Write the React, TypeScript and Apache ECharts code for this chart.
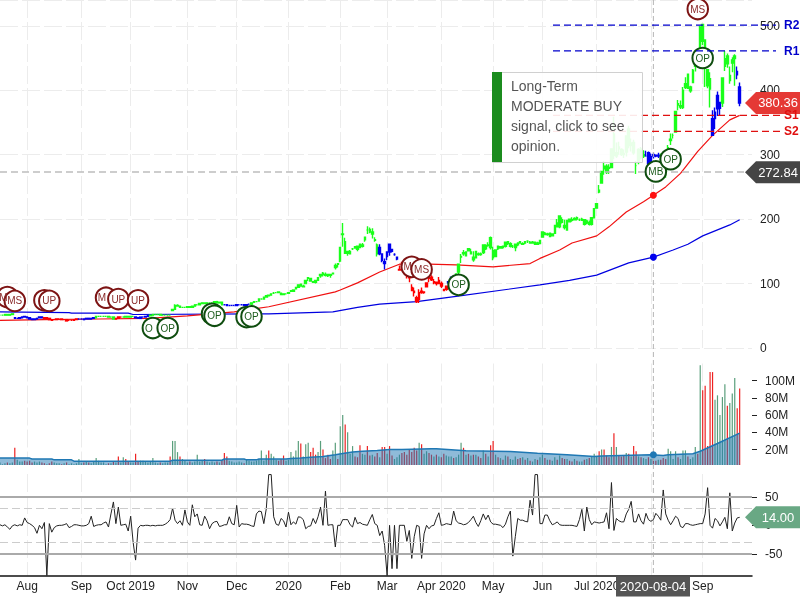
import React, { useEffect, useRef } from "react";
import * as echarts from "echarts";

const holidays = ["2019-09-02","2019-11-28","2019-12-25","2020-01-01","2020-01-20","2020-02-17","2020-04-10","2020-05-25","2020-07-03","2020-09-07"];
const firstDay = "2019-07-17";
const dayCount = 306;
const monthStarts = [11,33,53,76,96,117,138,157,179,200,220,242,264,285];
const monthLabels = ["Aug","Sep","Oct 2019","Nov","Dec","2020","Feb","Mar","Apr 2020","May","Jun","Jul 2020","","Sep"];

const closes = [
51,51,52,51,52,53,46,46,47,48,48,
47,45,44,45,46,48,47,46,47,44,43,44,45,45,44,44,42,43,43,44,45,45,
45,44,46,45,46,47,49,49,49,49,49,48,48,45,46,48,48,48,49,48,
49,49,47,46,48,48,49,50,51,52,52,52,51,51,51,51,51,60,66,66,63,63,63,
64,63,65,67,67,69,70,69,70,70,70,72,70,71,67,67,66,66,66,66,
67,67,67,66,67,68,70,72,72,76,76,79,81,81,84,85,86,86,83,84,84,
86,89,90,94,98,96,96,105,108,104,103,102,109,114,114,113,112,113,116,128,130,
156,177,147,150,150,154,155,153,161,160,172,183,180,180,167,160,156,136,134,
149,149,150,145,141,122,129,127,112,109,89,86,72,86,86,87,101,108,106,103,100,105,
96,91,96,103,109,110,115,130,142,146,149,151,149,137,150,145,145,160,154,160,156,
140,152,154,157,156,164,162,162,158,161,160,163,162,163,166,163,164,164,161,167,
180,176,177,173,177,190,188,205,195,187,198,196,198,201,200,199,200,192,197,192,202,216,
224,242,274,278,273,279,309,299,303,309,300,300,329,314,318,303,283,308,295,300,298,286,
297,298,298,299,291,284,275,311,324,330,367,377,376,400,410,403,405,431,448,443,498,
476,447,407,418,330,366,371,372,419,449,441,423,442,449,424,380];
const opens = [
51,51,51,52,51,52,47,46,46,47,49,
48,47,45,44,45,47,48,47,46,46,44,44,44,45,45,44,44,43,43,43,44,45,
45,45,45,46,45,46,47,49,49,49,49,49,48,48,45,46,48,48,48,49,
48,49,48,47,46,48,48,49,50,51,52,52,52,51,51,51,51,58,60,65,65,63,63,
63,64,63,65,67,67,69,70,69,70,70,70,72,70,71,67,67,66,66,66,
66,67,67,67,66,68,68,71,72,73,76,76,79,82,82,85,86,87,85,83,84,
85,88,88,92,94,99,95,100,109,108,102,105,105,112,116,114,114,114,115,125,131,
135,176,165,147,146,154,157,158,156,158,168,183,184,177,168,146,146,146,131,
142,161,153,145,138,121,132,128,116,119,94,88,78,75,88,86,95,109,110,101,102,100,
100,89,91,101,109,111,113,118,141,148,143,154,146,141,140,146,146,148,159,159,171,
151,142,158,155,158,158,165,158,158,156,163,165,161,165,166,164,163,161,163,162,
172,178,176,178,174,178,194,188,199,190,183,200,199,199,202,199,198,199,194,195,192,202,
217,245,256,282,282,280,280,332,298,312,308,302,304,340,314,319,283,288,309,298,298,303,
289,300,299,298,300,290,290,288,322,330,335,379,374,373,404,425,399,412,437,459,444,
502,478,432,402,356,356,392,381,380,437,453,415,447,453,429,405];
const lows = [
50,50,51,51,51,52,45,45,46,47,47,
46,44,43,44,45,46,46,45,46,44,42,43,44,44,44,43,42,42,42,43,44,44,
44,44,45,45,45,46,47,48,48,48,48,48,47,44,44,45,47,47,48,47,
47,48,46,45,46,47,48,49,50,51,51,51,50,50,50,50,50,57,59,64,62,62,62,
62,62,63,65,66,67,69,68,69,69,69,69,70,70,66,66,65,65,65,65,
66,66,66,65,66,67,68,70,71,72,75,75,78,80,81,84,85,85,82,82,83,
84,87,88,92,94,95,94,100,104,103,101,100,104,109,111,111,110,109,114,122,125,
133,157,146,143,146,152,154,150,155,156,165,177,178,170,165,142,144,133,122,
136,143,148,143,136,120,122,121,108,102,89,80,70,70,84,84,94,102,104,99,97,100,
93,88,89,99,104,106,110,115,132,143,142,150,146,134,139,143,143,146,152,157,153,
136,142,152,154,154,156,160,156,155,150,158,162,160,161,163,162,162,160,160,161,
172,175,174,172,173,177,187,186,193,184,182,195,196,198,198,197,197,190,192,190,190,201,
216,240,255,269,270,270,280,293,295,300,298,295,297,310,305,300,270,285,293,295,297,280,
288,294,296,295,283,272,264,283,315,325,334,369,371,371,402,403,396,411,429,441,444,
470,405,403,373,330,340,360,360,374,430,435,410,428,407,417,375];
const highs = [
52,52,52,52,52,53,47,47,47,49,49,
49,47,45,46,46,48,48,47,47,46,44,45,46,46,45,45,44,44,43,45,46,46,
46,45,46,46,47,47,50,50,50,50,50,49,49,48,46,48,49,49,49,49,
50,50,48,47,48,49,50,51,52,52,53,53,52,52,52,52,52,61,68,68,66,64,64,
64,64,66,67,68,70,70,70,70,71,71,72,72,71,72,68,67,67,67,67,
68,68,68,67,68,69,70,72,73,76,77,79,81,82,84,87,87,87,85,84,85,
86,90,90,95,99,100,98,106,110,109,104,106,110,115,118,117,115,114,117,131,131,
157,194,171,151,152,155,158,159,162,163,172,189,187,186,172,162,161,147,139,
150,161,152,147,139,128,134,129,119,122,99,94,81,91,94,88,102,112,113,107,103,110,
103,92,97,104,111,112,116,131,146,152,150,154,154,150,149,148,148,160,161,164,173,
157,153,158,158,158,165,165,164,160,162,164,166,164,166,167,166,166,165,165,168,
180,180,179,178,178,191,200,206,203,199,199,201,203,203,204,201,202,199,199,198,203,217,
225,253,275,290,285,285,309,359,319,320,310,308,330,345,325,323,290,310,312,307,306,305,
302,303,300,303,302,293,292,315,333,333,368,385,384,405,420,426,407,433,449,460,500,
502,479,431,428,369,373,398,382,420,461,457,437,451,456,437,412];

const regimeEnds = [5,17,31,38,46,49,54,60,90,101,153,161,181,184,261,267,288,292,298,300];
const regimeColors = ["#1aff1a","#0000ee","#ff0000","#0000ee","#1aff1a","#ff0000","#1aff1a","#0000ee","#1aff1a","#0000ee","#1aff1a","#0000ee","#ff0000","#0000ee","#1aff1a","#0000ee","#1aff1a","#0000ee","#1aff1a","#0000ee"];

const ma50Days = [0,18,40,60,76,95,109,136,138,145,154,162,174,185,200,215,219,227,232,242,247,254,261,265,270,276,283,289,296,300];
const ma50Vals = [43,44,45,46,50,56,64,87,90,101,118,130,130,129,126,131,139,152,163,174,188,211,227,237,250,271,305,330,354,361];
const ma200Days = [0,28,29,52,54,109,135,145,154,169,185,219,231,242,255,265,273,279,285,296,300];
const ma200Vals = [56,55,54,54,52,53,56,63,68,72,80,98,105,113,132,141,152,161,174,191,199];

const volumes = [
5,3,4,5,4,5,22,8,6,6,7,
6,7,5,6,5,6,5,4,3,4,6,5,4,4,3,4,5,3,4,3,4,9,
4,5,6,5,4,6,10,7,5,5,3,4,4,6,5,12,5,11,9,6,
5,5,15,6,7,7,6,5,6,10,5,4,5,4,5,5,12,30,30,17,12,9,7,
5,6,5,6,14,6,7,9,6,5,6,5,6,5,7,16,12,7,6,5,
5,6,5,4,8,7,6,6,7,9,19,7,14,19,15,12,8,7,9,13,7,
8,17,12,19,30,27,12,26,28,17,22,14,17,30,20,10,14,9,19,28,9,
47,60,49,40,15,24,12,11,25,15,14,24,13,14,12,16,11,23,23,
15,24,13,9,11,14,16,17,14,20,17,22,19,28,26,15,18,16,14,12,14,12,
11,15,13,12,12,10,11,14,28,22,14,15,13,14,14,12,10,19,15,12,25,
30,14,11,10,8,13,12,9,8,12,9,10,11,8,10,7,6,9,8,11,
14,10,8,8,7,11,8,13,10,9,9,7,6,9,7,6,6,8,9,10,12,15,
12,18,20,20,13,11,23,39,23,13,12,13,16,15,12,24,18,12,11,10,9,11,
9,9,7,8,8,10,9,21,18,9,18,11,9,19,19,12,9,11,23,15,118,
89,94,24,110,110,78,83,60,81,96,71,74,85,103,68,91];
const volumeRedOverride = [48,51,55,69,91,115,122,127,128,146,149,153,155,156,166,168,171,180,199,200,257,258,288];
const volumeGreenOverride = [121,124,125,129,130,170,187,290,291,292,293,294,297,298];
const volMaDays = [0,12,13,21,22,29,30,69,70,90,91,99,100,104,105,116,118,122,126,131,136,139,143,147,153,158,163,175,177,189,207,218,230,241,244,264,269,271,281,284,291,300];
const volMaVals = [10,10,9,9,8,8,6.5,6.5,7.5,7.5,9,9,8,8,9,9,9.5,10,11,12,14,15.5,17,18,19,20,20,21,21,18.5,17.6,15.7,14,12,12.5,14,13,14,15,18,27,39];

const oscillator = [
1,-1,1,-3,-7,-1,1,-1,1,0,
13,5,3,0,-4,-14,0,-6,5,-88,
3,-12,-4,-1,0,0,1,3,-4,-2,
1,1,0,-1,-1,0,3,16,-2,0,
1,1,4,6,-3,20,41,3,32,0,
1,2,-10,16,-30,-61,-5,0,-1,0,
0,-1,0,-1,0,0,0,2,5,10,
30,9,3,8,0,27,6,0,36,15,
20,1,0,16,8,-6,3,6,7,-2,
-1,1,1,15,3,1,35,-3,3,2,
2,1,-1,-2,20,25,24,3,29,89,
89,15,2,0,12,8,-3,23,1,6,
2,15,14,10,-6,-2,-1,12,3,15,
32,0,60,0,1,1,-38,0,0,10,
10,10,1,-3,14,3,5,2,1,0,
10,19,3,0,-18,-10,-35,-88,0,-76,
0,-76,0,0,0,-28,-9,-58,-20,0,
-2,-58,-15,0,-6,-1,0,12,22,0,
1,3,2,1,25,8,4,3,1,2,
5,10,16,5,-2,8,20,10,18,6,
2,2,1,0,-4,2,15,25,-54,-20,
12,9,9,7,6,44,18,89,89,3,
3,18,18,8,1,3,6,1,0,0,
0,0,0,-1,-2,10,28,-10,32,10,
1,6,5,4,5,6,22,-6,75,-9,
12,8,6,6,20,28,42,6,6,20,
8,2,21,10,7,10,21,16,9,62,
20,9,1,8,16,12,-2,-4,3,3,
1,0,1,2,3,3,20,66,0,-5,
12,8,-1,6,14,-6,57,-10,4,13,
14];

const signalDays = [3,6,18,20,43,48,56,62,68,86,87,100,102,167,171,186,283,285,266,272];
const signalVals = [79,73,74,73,78,76,74,31,31,53,50,48,49,126,122,98,526,450,274,293];
const signalText = ["M","MS","","UP","M","UP","UP","O","OP","","OP","","OP","M","MS","OP","MS","OP","MB","OP"];
const signalBearish = [1,1,1,1,1,1,1,0,0,0,0,0,0,1,1,0,1,0,0,0];

const levelNames = ["R2","R1","S1","S2"];
const levelVals = [501,461,361,336];
const levelColors = ["#0000cc","#0000cc","#e01010","#e01010"];

const cursorDay = 265;
const cursorDate = "2020-08-04";
const cursorPrice = 272.84;
const lastPrice = 380.36;
const lastOsc = 14;
const ma50Cursor = 237;
const ma200Cursor = 141;
const volMaCursor = 14;
const opinionLines = ["Long-Term", "MODERATE BUY", "signal, click to see", "opinion."];

const FONT = "'Liberation Sans', Arial, sans-serif";
const TAG = "path://M0 11 L11 0 L56 0 L56 22 L11 22 Z";
const pairs = (d: number[], v: number[]) => d.map((x, i) => [x, v[i]]);

function buildDates() {
  const out: string[] = [];
  const d = new Date(firstDay + "T00:00:00Z");
  while (out.length < dayCount) {
    const s = d.toISOString().slice(0, 10);
    const w = d.getUTCDay();
    if (w !== 0 && w !== 6 && !holidays.includes(s)) out.push(s);
    d.setUTCDate(d.getUTCDate() + 1);
  }
  return out;
}
const dates = buildDates();

const regimeColor = (i: number) => {
  const k = regimeEnds.findIndex((e) => i <= e);
  return regimeColors[k < 0 ? regimeColors.length - 1 : k];
};
const gridDash = { color: "#ececec", width: 1, type: [18, 4] as any };
const isMonth = (i: number) => monthStarts.includes(i);
const noY = { show: false };

function tag(day: number, value: number, text: string, color: string) {
  return {
    coord: [day, value],
    symbol: TAG,
    symbolSize: [56, 22],
    symbolKeepAspect: false,
    symbolOffset: [21, 0],
    itemStyle: { color, borderWidth: 0 },
    label: { show: true, formatter: text, position: "inside", color: "#fff", fontSize: 13, fontFamily: FONT, offset: [5, 0] },
  };
}

export default function App() {
  const ref = useRef<HTMLDivElement>(null);
  useEffect(() => {
    const chart = echarts.init(ref.current!, undefined, { renderer: "svg" });
    const xBase = (gridIndex: number) => ({
      type: "category",
      gridIndex,
      data: dates,
      boundaryGap: false,
      axisLine: { show: false, onZero: false },
      axisTick: noY,
      axisLabel: noY,
      splitLine: { show: true, interval: (i: number) => isMonth(i), lineStyle: gridDash },
    });
    chart.setOption({
      animation: false,
      textStyle: { fontFamily: FONT },
      grid: [
        { left: 0, width: 752, top: 0, height: 348 },
        { left: 0, width: 752, top: 363.5, height: 101.5 },
        { left: 0, width: 752, top: 474, height: 101.5 },
      ],
      xAxis: [
        xBase(0),
        xBase(1),
        {
          ...xBase(2),
          axisLine: { show: true, onZero: false, lineStyle: { color: "#111", width: 1.5 } },
          axisLabel: {
            show: true,
            interval: (i: number) => isMonth(i),
            formatter: (_: string, i: number) => monthLabels[monthStarts.indexOf(i)] ?? "",
            color: "#222",
            fontSize: 12,
            margin: 4,
            hideOverlap: false,
          },
        },
      ],
      yAxis: [
        {
          type: "value", gridIndex: 0, position: "right", min: 0, max: 540, interval: 100,
          axisLine: noY, axisTick: noY,
          axisLabel: { color: "#222", fontSize: 12, margin: 8, customValues: [0, 100, 200, 300, 400, 500] },
          splitLine: { show: true, lineStyle: gridDash },
        },
        {
          type: "value", gridIndex: 1, position: "right", min: 2, max: 120,
          axisLine: noY,
          axisTick: { show: true, length: 5, lineStyle: { color: "#222" }, customValues: [20, 40, 60, 80, 100] },
          axisLabel: { color: "#222", fontSize: 12, margin: 13, customValues: [20, 40, 60, 80, 100], formatter: (v: number) => v + "M" },
          splitLine: noY,
        },
        {
          type: "value", gridIndex: 2, position: "right", min: -88, max: 90,
          axisLine: noY,
          axisTick: { show: true, length: 5, lineStyle: { color: "#222" }, customValues: [-50, 0, 50] },
          axisLabel: { color: "#222", fontSize: 12, margin: 13, customValues: [-50, 0, 50] },
          splitLine: noY,
        },
      ],
      series: [
        {
          type: "line", xAxisIndex: 0, yAxisIndex: 0, data: pairs(ma200Days, ma200Vals), symbol: "none",
          lineStyle: { color: "#0000e0", width: 1.2 }, z: 2,
          markPoint: { data: [{ coord: [cursorDay, ma200Cursor], symbol: "circle", symbolSize: 7, itemStyle: { color: "#0000ee" }, label: { show: false } }] },
        },
        {
          type: "line", xAxisIndex: 0, yAxisIndex: 0, data: pairs(ma50Days, ma50Vals), symbol: "none",
          lineStyle: { color: "#f01010", width: 1.2 }, z: 2,
          markPoint: { data: [{ coord: [cursorDay, ma50Cursor], symbol: "circle", symbolSize: 7, itemStyle: { color: "#ff1010" }, label: { show: false } }] },
        },
        {
          type: "candlestick", xAxisIndex: 0, yAxisIndex: 0, barWidth: 2, z: 3, large: false,
          data: closes.map((c, i) => {
            const col = regimeColor(i);
            return {
              value: [opens[i], c, lows[i], highs[i]],
              itemStyle: { color: col, color0: col, borderColor: col, borderColor0: col, borderWidth: 1.4 },
            };
          }),
          markLine: {
            silent: true, symbol: "none", animation: false,
            lineStyle: { color: "#bdbdbd", type: [7, 4] as any, width: 1.5 },
            label: { show: false },
            data: [{ yAxis: cursorPrice }],
          },
          markPoint: {
            data: [
              ...signalDays.map((d, i) => {
                const bear = signalBearish[i] === 1;
                const partial = signalText[i].length === 1;
                return {
                  coord: [d, signalVals[i]],
                  symbol: "circle",
                  symbolSize: 20.5,
                  itemStyle: { color: "#fff", borderColor: bear ? "#7d1414" : "#0f4d0f", borderWidth: 2 },
                  label: {
                    show: signalText[i] !== "", formatter: signalText[i], position: "inside",
                    color: bear ? "#8a2a2a" : "#1d5c1d", fontSize: 10, fontFamily: FONT,
                    offset: partial ? [-4, 0] : [0, 0],
                  },
                };
              }),
              tag(305, cursorPrice, cursorPrice.toFixed(2), "#454545"),
              tag(305, lastPrice, lastPrice.toFixed(2), "#e53935"),
            ],
          },
        },
        {
          type: "bar", xAxisIndex: 1, yAxisIndex: 1, barWidth: 1.2, z: 2,
          data: volumes.map((v, i) => {
            const red = volumeGreenOverride.includes(i) ? false : volumeRedOverride.includes(i) ? true : closes[i] < opens[i];
            return { value: v, itemStyle: { color: red ? "#ee2222" : "#5a9f7c" } };
          }),
        },
        {
          type: "line", xAxisIndex: 1, yAxisIndex: 1, data: pairs(volMaDays, volMaVals), symbol: "none", z: 3,
          lineStyle: { color: "#1f78b4", width: 1.5 },
          areaStyle: { color: "#1f78b4", opacity: 0.5 },
          markPoint: { data: [{ coord: [cursorDay, volMaCursor], symbol: "circle", symbolSize: 7, itemStyle: { color: "#1f78b4" }, label: { show: false } }] },
        },
        {
          type: "line", xAxisIndex: 2, yAxisIndex: 2, data: oscillator, symbol: "none", z: 3,
          lineStyle: { color: "#222", width: 1 },
          markLine: {
            silent: true, symbol: "none", animation: false, label: { show: false },
            data: [
              { yAxis: 50, lineStyle: { color: "#aaa", width: 2, type: "solid" } },
              { yAxis: -50, lineStyle: { color: "#aaa", width: 2, type: "solid" } },
              { yAxis: 30, lineStyle: { color: "#ccc", width: 1.2, type: [8, 4] as any } },
              { yAxis: -30, lineStyle: { color: "#ccc", width: 1.2, type: [8, 4] as any } },
            ],
          },
          markPoint: { data: [tag(305, lastOsc, lastOsc.toFixed(2), "#69a884")] },
        },
      ],
    });

    const cx = chart.convertToPixel({ gridIndex: 0 }, [cursorDay, 0])[0];
    const levelEls: any[] = [];
    levelVals.forEach((v, i) => {
      const y = chart.convertToPixel({ yAxisIndex: 0 }, v) as number;
      levelEls.push({
        type: "line", z: 20, silent: true,
        shape: { x1: 553, y1: y, x2: i < 2 ? 776 : 782, y2: y },
        style: { stroke: levelColors[i], lineWidth: 1.3, lineDash: [7, 4] },
      });
      levelEls.push({
        type: "text", z: 21, silent: true, x: 784, y: y - 6,
        style: { text: levelNames[i], fill: levelColors[i], font: "bold 12px " + FONT },
      });
    });
    chart.setOption({
      graphic: [
        {
          type: "line", z: 4, silent: true,
          shape: { x1: cx, y1: 0, x2: cx, y2: 575 },
          style: { stroke: "#b5b5b5", lineWidth: 1, lineDash: [5, 3] },
        },
        ...levelEls,
        { type: "rect", z: 30, silent: true, shape: { x: 492.5, y: 72.5, width: 150, height: 90 }, style: { fill: "rgba(255,255,255,0.9)", stroke: "#d0d0d0", lineWidth: 1 } },
        { type: "rect", z: 31, silent: true, shape: { x: 492, y: 72, width: 10, height: 90 }, style: { fill: "#1b8c1e" } },
        ...opinionLines.map((t, i) => ({
          type: "text", z: 32, silent: true, x: 511, y: 79 + i * 20,
          style: { text: t, fill: "#555", font: "14px " + FONT },
        })),
        { type: "rect", z: 33, silent: true, shape: { x: 616, y: 576.5, width: 74, height: 20 }, style: { fill: "#555" } },
        {
          type: "text", z: 34, silent: true, x: 653, y: 586.5,
          style: { text: cursorDate, fill: "#fff", font: "13px " + FONT, align: "center", verticalAlign: "middle" },
        },
      ],
    });
    return () => chart.dispose();
  }, []);
  return <div ref={ref} style={{ position: "fixed", left: 0, top: 0, width: 800, height: 600 }} />;
}
